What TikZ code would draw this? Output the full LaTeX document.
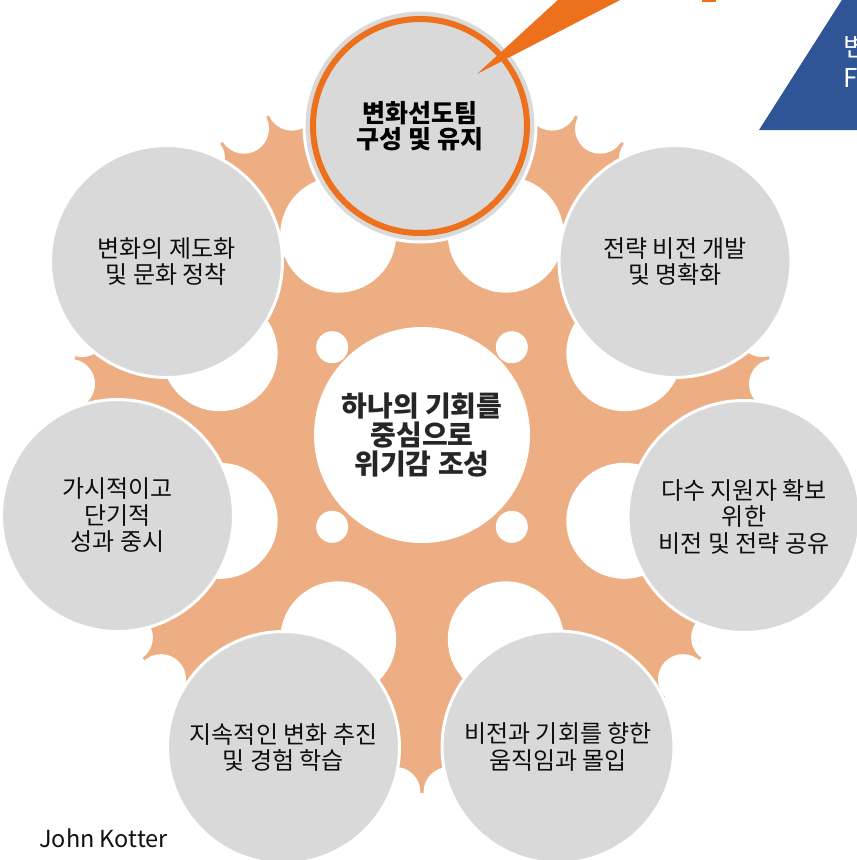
\documentclass[tikz,border=0pt]{standalone}
\usepackage{fontspec}
\setmainfont{Noto Sans CJK KR}
\definecolor{gearorange}{RGB}{237,174,132}
\definecolor{circgray}{RGB}{217,217,217}
\definecolor{accent}{RGB}{237,113,28}
\definecolor{navy}{RGB}{47,85,151}
\definecolor{txt}{RGB}{15,15,15}
\definecolor{hubtxt}{RGB}{38,38,38}
\begin{document}
\begin{tikzpicture}[x=1pt,y=-1pt,
  stage/.style={circle, fill=circgray, draw=white, line width=3pt, minimum size=232pt, inner sep=0pt, align=center, font=\fontsize{24}{26.5}\selectfont, text=txt},
  leadstage/.style={stage, font=\fontsize{25}{26}\selectfont\bfseries, text=black},
  hub/.style={circle, fill=white, minimum size=216pt, inner sep=0pt, align=center, font=\fontsize{28}{29}\selectfont\bfseries, text=hubtxt},
  hole/.style={fill=white},
]
\useasboundingbox (0,0) rectangle (857,860);
\clip (0,0) rectangle (857,860);
% gear body
\coordinate (C) at (422,437);
\fill[gearorange] (C) circle (356);
\foreach \k in {0,...,41} {
  \pgfmathsetmacro{\a}{60+\k*360/42}
  \fill[hole] ({422+356*cos(\a)},{437-356*sin(\a)}) circle (25);
}
\foreach \a in {22.5,67.5,...,337.5}
  \fill[hole] ({422+219*cos(\a)},{437-219*sin(\a)}) circle (58);
\foreach \a in {45,135,225,315}
  \fill[hole] ({422+127*cos(\a)},{437-127*sin(\a)}) circle (16);
% hub
\node[hub] (hubnode) at (422,435) {하나의 기회를\\중심으로\\위기감 조성};
% stages
\node[leadstage] (s1) at (420,126) {변화선도팀\\구성 및 유지};
\draw[accent, line width=6pt] (s1.center) circle (107);
\node[stage] (s2) at (675,261.5) {전략 비전 개발\\및 명확화};
\node[stage] (s3) at (744,516.5) {다수 지원자 확보\\위한\\비전 및 전략 공유};
\node[stage] (s4) at (558,747) {비전과 기회를 향한\\움직임과 몰입};
\node[stage] (s5) at (283.5,747.5) {지속적인 변화 추진\\및 경험 학습};
\node[stage] (s6) at (117.5,515.5) {가시적이고\\단기적\\성과 중시};
\node[stage] (s7) at (166.5,261.5) {변화의 제도화\\및 문화 정착};
% callout pointer
\coordinate (tip) at (477,74);
\fill[accent] (tip) -- (560,-2) -- (624,-2) -- cycle;
\fill[accent] (702,-5) rectangle (716,1.5);
% blue triangle
\fill[navy] (759,130) -- (900,130) -- (900,-30) -- (861,-30) -- cycle;
\node[anchor=west, inner sep=0pt, align=left, text=white, font=\fontsize{26}{31}\selectfont] (tri) at (843,61) {변\\F};
% author
\node[anchor=west, inner sep=0pt, font=\fontsize{23.5}{28}\selectfont, text=txt] (author) at (39,838) {John Kotter};
\end{tikzpicture}
\end{document}
